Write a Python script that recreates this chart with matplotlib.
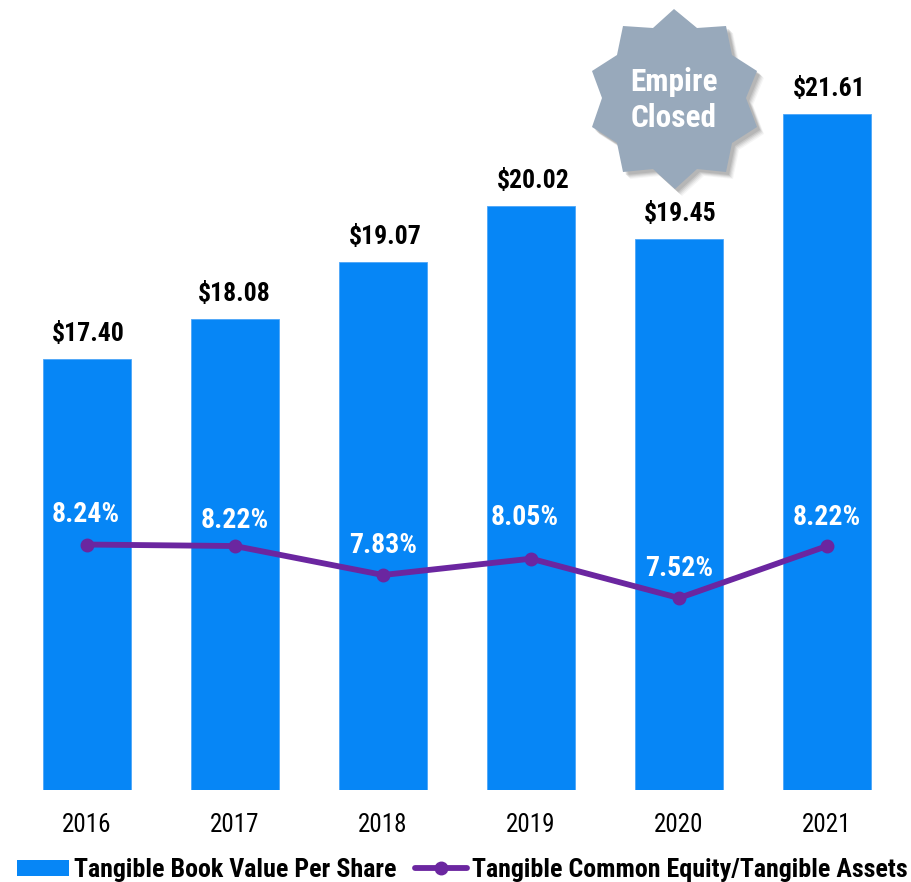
import matplotlib
matplotlib.use("Agg")
import matplotlib.pyplot as plt
from matplotlib.patches import Polygon
from matplotlib.lines import Line2D

plt.rcParams['font.family'] = ['Roboto Condensed', 'Archivo Narrow', 'Liberation Sans', 'DejaVu Sans']

years = ["2016", "2017", "2018", "2019", "2020", "2021"]
tbv = [17.40, 18.08, 19.07, 20.02, 19.45, 21.61]
tce = [8.24, 8.22, 7.83, 8.05, 7.52, 8.22]
tbv_labels = ["$17.40", "$18.08", "$19.07", "$20.02", "$19.45", "$21.61"]
tce_labels = ["8.24%", "8.22%", "7.83%", "8.05%", "7.52%", "8.22%"]

BAR_COLOR = "#0686F6"
LINE_COLOR = "#6B26A0"
STAR_COLOR = "#98A9BB"
W, H = 912, 882
PX = 72 / 100

# outline of the badge, in figure pixels
star_pts = [(674, 9), (697, 28), (726, 26), (732, 55), (757, 71), (746, 98), (757, 127),
            (732, 143), (726, 172), (697, 169), (675, 189), (653, 169), (623, 172), (617, 143),
            (592, 127), (602, 98), (592, 71), (617, 55), (623, 26), (653, 28)]

fig = plt.figure(figsize=(W / 100, H / 100), dpi=100)
ax = fig.add_axes([13 / W, 1 - 790 / H, 888 / W, 790 / H])
x = list(range(len(years)))

ax.bar(x, tbv, width=0.6, color=BAR_COLOR, edgecolor="#4DA6F8", linewidth=0.6)
ax.set_xlim(-0.5, 5.5)
ax.set_ylim(10, 23.56)
ax.set_yticks([])
ax.set_xticks(x)
ax.set_xticklabels(years, fontsize=18)
ax.tick_params(axis='x', length=0, pad=16.5)
for s in ax.spines.values():
    s.set_visible(False)

ax2 = ax.twinx()
ax2.plot(x, tce, color=LINE_COLOR, linewidth=4.2, marker='o', markersize=9, solid_capstyle='round')
ax2.set_ylim(4.936, 15.57)
ax2.set_yticks([])
for s in ax2.spines.values():
    s.set_visible(False)

tbv_shift = [1, -1, 2, 2, 1, 2]
for i, lab in enumerate(tbv_labels):
    ax.annotate(lab, (x[i], tbv[i]), xytext=(tbv_shift[i] * PX, 25 * PX), textcoords='offset points',
                ha='center', va='center', fontsize=18.5, fontweight='bold', color='black')

tce_offsets = [30, 26, 30, 41, 30, 29]
tce_shift = [-1, 0, 0, -6, 0, 0]
for i, lab in enumerate(tce_labels):
    ax2.annotate(lab, (x[i], tce[i]), xytext=(tce_shift[i] * PX, tce_offsets[i] * PX), textcoords='offset points',
                 ha='center', va='center', fontsize=20, fontweight='bold', color='white')

# overlay in pixel coordinates for the badge
ov = fig.add_axes([0, 0, 1, 1], facecolor='none')
ov.set_xlim(0, W)
ov.set_ylim(H, 0)
ov.axis('off')
for d, a in [(7, 0.05), (6, 0.07), (5, 0.09), (4, 0.11), (3, 0.12)]:
    ov.add_patch(Polygon([(px + d, py + d) for px, py in star_pts], closed=True,
                         facecolor='#404040', edgecolor='none', alpha=a))
ov.add_patch(Polygon(star_pts, closed=True, facecolor=STAR_COLOR, edgecolor='none'))
ov.text(674, 82, "Empire", ha='center', va='center', fontsize=22.5, fontweight='bold', color='white')
ov.text(674, 118, "Closed", ha='center', va='center', fontsize=22.5, fontweight='bold', color='white')

handles = [plt.Rectangle((0, 0), 1, 1, facecolor=BAR_COLOR, edgecolor='none'),
           Line2D([0], [0], color=LINE_COLOR, linewidth=4.2, marker='o', markersize=9,
                  solid_capstyle='round')]
fig.legend(handles, ["Tangible Book Value Per Share", "Tangible Common Equity/Tangible Assets"],
           loc='lower left', bbox_to_anchor=(-0.001, -0.0205), ncol=2, frameon=False,
           prop={'size': 18.7, 'weight': 'bold'}, handlelength=2.0, handleheight=0.58,
           handletextpad=0.2, columnspacing=0.68, borderpad=0.2)

fig.savefig("out.png", dpi=100)
